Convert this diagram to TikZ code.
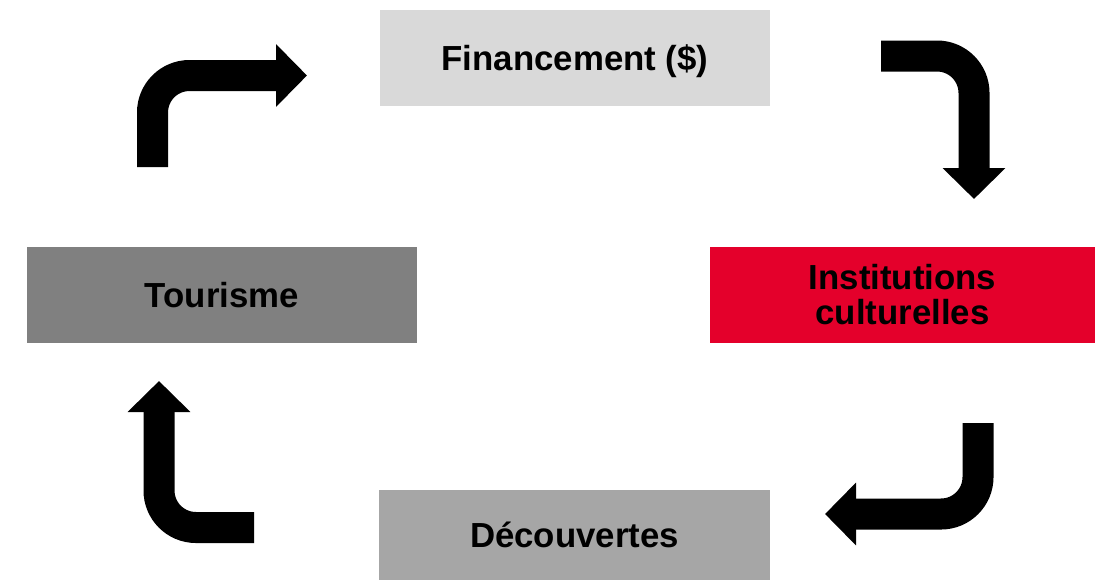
\documentclass[tikz,border=0pt]{standalone}
\usepackage{fontspec}
\setmainfont{Liberation Sans}
\usepackage{xcolor}
\usetikzlibrary{arrows.meta}
\definecolor{fingray}{HTML}{D9D9D9}
\definecolor{tourgray}{HTML}{808080}
\definecolor{decgray}{HTML}{A6A6A6}
\definecolor{instred}{HTML}{E4002B}

\begin{document}
\begin{tikzpicture}[x = 0.5pt, y = -0.5pt,
  box/.style = {inner sep = 0pt, align = center, font = \fontsize{17.4}{17.5}\selectfont\bfseries},
  bent/.style = {line width = 15.5pt, rounded corners = 18.5pt,
    -{Triangle[length = 15.5pt, width = 30.5pt]}}]
\useasboundingbox (0,0) rectangle (1095,580);
%
\node[box, fill=fingray, text depth=0pt, minimum width=195pt, minimum height=48pt](fin) at (575,58){Financement (\$)};
\node[box, fill=instred, minimum width=192.5pt, minimum height=48pt](inst) at (902.5,295){Institutions\\culturelles};
\node[box, fill=decgray, minimum width=195.5pt, minimum height=45pt](dec) at (574.5,535){D\'ecouvertes};
\node[box, fill=tourgray, minimum width=195pt, minimum height=48pt](tour) at (222,295){Tourisme};
%
\coordinate (tl-a) at (152.5,167);
\coordinate (tl-b) at (307,75.5);
\coordinate (tr-a) at (881,56);
\coordinate (tr-b) at (974,199);
\coordinate (br-a) at (978,423);
\coordinate (br-b) at (825,514);
\coordinate (bl-a) at (254,527.5);
\coordinate (bl-b) at (159,381);
%
\draw[bent](tl-a) |- (tl-b);
\draw[bent](tr-a) -| (tr-b);
\draw[bent](br-a) |- (br-b);
\draw[bent](bl-a) -| (bl-b);
\end{tikzpicture}
\end{document}
